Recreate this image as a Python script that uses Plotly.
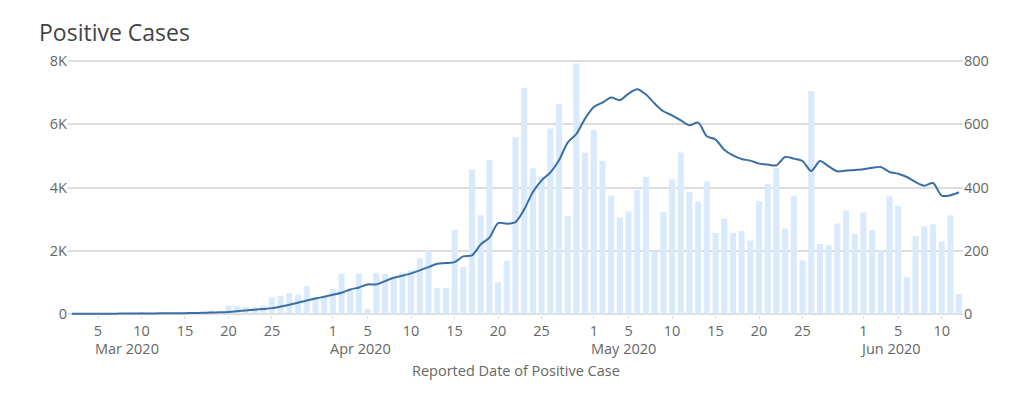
import pandas as pd
import plotly.graph_objects as go

# ---- data ----
dates = pd.date_range("2020-03-02", "2020-06-12", freq="D")

daily_cases = [
    # Mar 2 - Mar 31
    0, 0, 1, 0, 1, 1, 2, 1, 3, 1, 2, 2, 1, 2, 3, 4, 10, 4, 26, 24,
    22, 20, 26, 52, 57, 65, 61, 87, 53, 55,
    # Apr 1 - Apr 30
    79, 127, 76, 127, 16, 130, 126, 117, 130, 138, 176, 200, 82, 82, 266,
    148, 457, 312, 486, 100, 168, 560, 715, 460, 436, 587, 665, 310, 793, 510,
    # May 1 - May 31
    582, 484, 375, 305, 324, 392, 433, 198, 322, 426, 511, 386, 356, 419, 256,
    302, 256, 262, 232, 357, 411, 462, 270, 374, 169, 705, 221, 217, 286, 327, 253,
    # Jun 1 - Jun 12
    321, 265, 201, 372, 342, 116, 246, 277, 283, 229, 312, 63,
]

trend = [
    # Mar 2 - Mar 31
    0, 0, 0, 0, 2, 3, 5, 6, 8, 10, 12, 14, 16, 18, 22, 28, 36, 44, 55, 78,
    105, 128, 150, 178, 228, 285, 350, 422, 482, 539,
    # Apr 1 - Apr 30
    602, 666, 770, 834, 929, 929, 1034, 1141, 1205, 1278, 1373, 1478, 1585, 1605, 1636,
    1817, 1849, 2198, 2410, 2873, 2854, 2905, 3307, 3856, 4227, 4471, 4861, 5422, 5695, 6183,
    # May 1 - May 31
    6551, 6691, 6849, 6764, 6976, 7113, 6945, 6659, 6415, 6288, 6125, 5971, 6057, 5622, 5518,
    5200, 5020, 4903, 4852, 4757, 4725, 4703, 4967, 4915, 4840, 4522, 4840, 4671, 4512, 4535, 4554,
    # Jun 1 - Jun 12
    4580, 4625, 4650, 4491, 4438, 4332, 4173, 4058, 4142, 3742, 3753, 3848,
]

tick_dates = ["2020-03-05", "2020-03-10", "2020-03-15", "2020-03-20", "2020-03-25",
              "2020-04-01", "2020-04-05", "2020-04-10", "2020-04-15", "2020-04-20", "2020-04-25",
              "2020-05-01", "2020-05-05", "2020-05-10", "2020-05-15", "2020-05-20", "2020-05-25",
              "2020-06-01", "2020-06-05", "2020-06-10"]
tick_text = ["5", "10", "15", "20", "25", "1", "5", "10", "15", "20", "25",
             "1", "5", "10", "15", "20", "25", "1", "5", "10"]

month_label_dates = ["2020-03-05", "2020-04-01", "2020-05-01", "2020-06-01"]
month_labels = ["Mar 2020", "Apr 2020", "May 2020", "Jun 2020"]

left_ticks = [0, 2000, 4000, 6000, 8000]
left_text = ["0", "2K", "4K", "6K", "8K"]
right_ticks = [0, 200, 400, 600, 800]

# ---- figure ----
fig = go.Figure()

fig.add_trace(go.Bar(
    x=dates, y=daily_cases, yaxis="y",
    marker=dict(color="#d9eafc", line=dict(width=0)),
    showlegend=False,
))
fig.add_trace(go.Scatter(
    x=dates, y=trend, yaxis="y2", mode="lines",
    line=dict(color="#3a6ea5", width=2, shape="spline", smoothing=0.8),
    showlegend=False,
))

grey = "#666666"
fig.update_layout(
    width=1014, height=391,
    margin=dict(l=60, r=59, t=52, b=84),
    paper_bgcolor="white", plot_bgcolor="white",
    font=dict(family="Open Sans, Noto Sans, sans-serif", size=14.5, color=grey),
    bargap=0.3,
    xaxis=dict(
        type="date",
        range=["2020-03-01 13:13", "2020-06-12 10:48"],
        tickmode="array", tickvals=tick_dates, ticktext=tick_text,
        ticks="outside", ticklen=3, tickcolor="#dddddd",
        showgrid=False, showline=False, zeroline=False,
        tickfont=dict(size=14.5, color=grey),
    ),
    yaxis=dict(
        side="right", range=[-4, 804], tickvals=right_ticks,
        showgrid=False, zeroline=False, showline=False,
        tickfont=dict(size=14.5, color=grey),
    ),
    yaxis2=dict(
        side="left", overlaying="y", range=[-40, 8040],
        tickvals=left_ticks, ticktext=left_text,
        showgrid=True, gridcolor="#dddddd", gridwidth=1.5,
        zeroline=False, showline=False,
        tickfont=dict(size=14.5, color=grey),
    ),
)

annotations = [
    dict(text="Positive Cases", xref="paper", yref="paper", x=0, y=1,
         xanchor="left", yanchor="middle", xshift=-31, yshift=28,
         showarrow=False, font=dict(size=23, color="#444444")),
    dict(text="Reported Date of Positive Case", xref="paper", yref="paper",
         x=0.5, y=0, xanchor="center", yanchor="middle", yshift=-55.5,
         showarrow=False, font=dict(size=14.5, color=grey)),
]
for d, lab in zip(month_label_dates, month_labels):
    annotations.append(dict(text=lab, xref="x", yref="paper", x=d, y=0,
                            xanchor="left", yanchor="middle", xshift=-5, yshift=-33.5,
                            showarrow=False, font=dict(size=14.5, color=grey)))
fig.update_layout(annotations=annotations)

fig.write_html("out.html")
